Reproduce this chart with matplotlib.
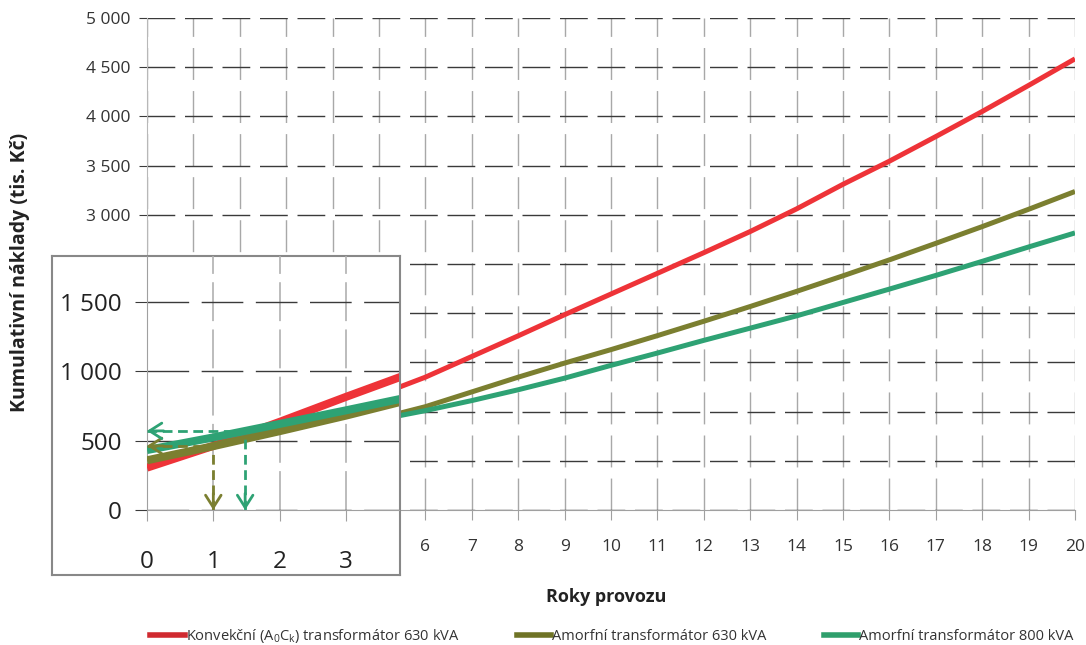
import numpy as np
import matplotlib
matplotlib.use('Agg')
import matplotlib.pyplot as plt
from matplotlib.lines import Line2D
from matplotlib.ticker import FuncFormatter

plt.rcParams['font.family'] = ['Open Sans', 'DejaVu Sans']
plt.rcParams['mathtext.fontset'] = 'custom'
plt.rcParams['mathtext.rm'] = 'Open Sans'
plt.rcParams['lines.scale_dashes'] = False

# Data (cumulative costs, thousands CZK)
years = list(range(0, 21))
konvekcni_630 = [305, 462, 635, 815, 990, 1170, 1350, 1560, 1770, 1985, 2195,
                 2405, 2615, 2830, 3060, 3310, 3545, 3795, 4050, 4315, 4585]
amorfni_630 = [358, 460, 568, 680, 800, 930, 1050, 1200, 1350, 1493, 1630,
               1772, 1918, 2068, 2222, 2380, 2542, 2710, 2880, 3056, 3237]
amorfni_800 = [432, 523, 620, 718, 818, 918, 1010, 1112, 1222, 1340, 1470,
               1595, 1724, 1848, 1973, 2109, 2245, 2384, 2527, 2673, 2816]

series_labels = [r'Konvekční (A$_\mathregular{0}$C$_\mathregular{k}$) transformátor 630 kVA',
                 'Amorfní transformátor 630 kVA',
                 'Amorfní transformátor 800 kVA']
line_colors = ['#ee3338', '#7b7f30', '#2ea274']
legend_colors = ['#d02a30', '#6f7325', '#2f9f6c']

# payback points marked with arrows in the zoomed inset (year, cost)
payback_points = [(1.0, 462), (1.48, 570)]
payback_colors = ['#7b7f30', '#2ea274']

# main-chart tick labels that sit under the inset box are left empty
hidden_x_below = 6
hidden_y_below = 3000

W, H = 1086, 645
fig = plt.figure(figsize=(W / 100, H / 100), dpi=100)


def fx(px):
    return px / W


def fy(py):
    return 1 - py / H


def space_thousands(v, pos):
    return f'{int(v):,}'.replace(',', ' ')


def main_y_fmt(v, pos):
    return '' if v < hidden_y_below else space_thousands(v, pos)


def main_x_fmt(v, pos):
    return '' if v < hidden_x_below else f'{int(v)}'


# Main chart
ax = fig.add_axes([fx(147), fy(510), fx(1075 - 147), (510 - 18) / H])
for vals, col in zip([konvekcni_630, amorfni_630, amorfni_800], line_colors):
    ax.plot(years, vals, color=col, lw=3.6, solid_capstyle='butt', zorder=3)
ax.set_xlim(0, 20)
ax.set_ylim(0, 5000)
ax.set_xticks(range(0, 21))
ax.set_yticks(range(0, 5001, 500))
ax.yaxis.set_major_formatter(FuncFormatter(main_y_fmt))
ax.xaxis.set_major_formatter(FuncFormatter(main_x_fmt))
ax.yaxis.grid(True, color='#3a3a3a', lw=1.0, linestyle=(0, (20, 7)))
ax.xaxis.grid(True, color='#a8a8a8', lw=1.0, linestyle=(0, (23, 8)))
for s in ['top', 'right']:
    ax.spines[s].set_visible(False)
ax.spines['left'].set_color('#b8b8b8')
ax.spines['bottom'].set_color('#a0a0a0')
ax.tick_params(axis='y', length=6, color='#3a3a3a', pad=6, labelsize=12.5, labelcolor='#333333')
ax.tick_params(axis='x', length=7, color='#a0a0a0', pad=14, labelsize=12.5, labelcolor='#333333')

fig.text(fx(20), fy(272), 'Kumulativní náklady (tis. Kč)', rotation=90,
         ha='center', va='center', fontsize=14, fontweight='bold', color='#222222')
fig.text(fx(606), fy(597), 'Roky provozu', ha='center', va='center',
         fontsize=13, fontweight='bold', color='#222222')

# Inset frame (white box hiding the lower-left corner of the main chart)
frame = fig.add_axes([fx(52), fy(575), fx(400 - 52), (575 - 256) / H])
frame.set_facecolor('white')
frame.set_xticks([])
frame.set_yticks([])
for s in frame.spines.values():
    s.set_color('#888888')
    s.set_linewidth(1.5)

# Zoomed inset for the first years
ins = fig.add_axes([fx(147), fy(510), fx(399 - 147), (510 - 256) / H])
ins.patch.set_alpha(0)
for vals, col in zip([konvekcni_630, amorfni_630, amorfni_800], line_colors):
    ins.plot(years, vals, color=col, lw=5.8, solid_capstyle='butt', zorder=3)
ins.set_xlim(0, 3.8)
ins.set_ylim(0, 1830)
ins.set_xticks([0, 1, 2, 3])
ins.set_yticks([0, 500, 1000, 1500])
ins.yaxis.set_major_formatter(FuncFormatter(space_thousands))
ins.yaxis.grid(True, color='#3a3a3a', lw=1.0, linestyle=(0, (30, 9)))
ins.xaxis.grid(True, color='#b0b0b0', lw=1.2, linestyle=(0, (28, 6)))
for s in ['top', 'right']:
    ins.spines[s].set_visible(False)
ins.spines['left'].set_color('#a0a0a0')
ins.spines['bottom'].set_color('#a0a0a0')
ins.tick_params(axis='y', length=9, color='#3a3a3a', pad=9, labelsize=17.5, labelcolor='#222222')
ins.tick_params(axis='x', length=8, color='#a0a0a0', pad=21, labelsize=17.5, labelcolor='#222222')

# dashed leader lines with solid arrow heads at the axes
head = dict(arrowstyle='->,head_length=0.55,head_width=0.35', lw=2.0,
            shrinkA=0, shrinkB=0, mutation_scale=16)
for (px_, py_), col in zip(payback_points, payback_colors):
    ins.plot([0, px_], [py_, py_], color=col, lw=2.0, linestyle=(0, (7, 4)), zorder=5)
    ins.plot([px_, px_], [0, py_], color=col, lw=2.0, linestyle=(0, (7, 4)), zorder=5)
    ins.annotate('', xy=(0, py_), xytext=(12, 0), textcoords='offset points',
                 arrowprops=dict(color=col, **head), zorder=6)
    ins.annotate('', xy=(px_, 0), xytext=(0, 12), textcoords='offset points',
                 arrowprops=dict(color=col, **head), zorder=6)

# Legend
handles = [Line2D([], [], color=c, lw=4) for c in legend_colors]
fig.legend(handles, series_labels, loc='center', bbox_to_anchor=(fx(612), fy(636)),
           ncol=3, frameon=False, fontsize=10.5, handlelength=2.35, handletextpad=0.1,
           columnspacing=3.9, labelcolor='#333333')

fig.savefig('out.png', dpi=100)
